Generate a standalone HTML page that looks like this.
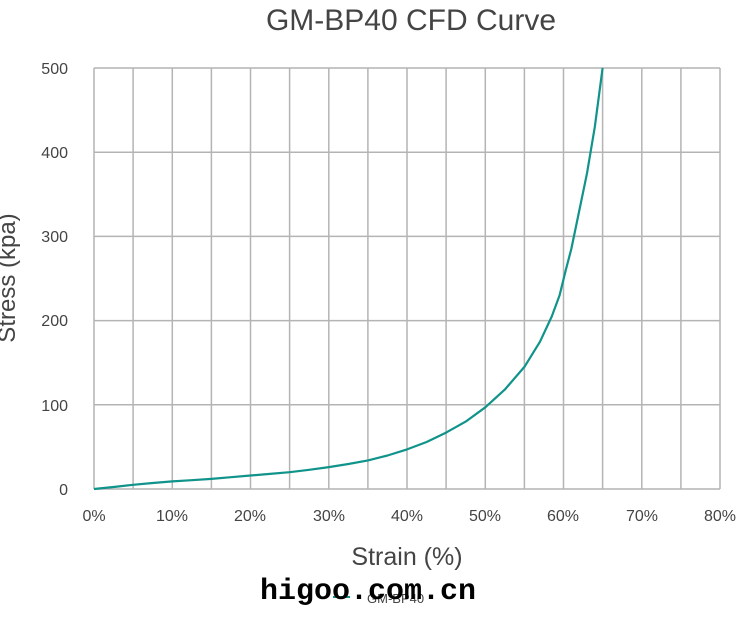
<!DOCTYPE html>
<html><head><style>
body{margin:0;background:#fff;width:742px;height:613px;overflow:hidden;font-family:"Liberation Sans",Arial,sans-serif}
</style></head><body>
<svg width="742" height="613" xmlns="http://www.w3.org/2000/svg" font-family="Liberation Sans, Arial, sans-serif">
<text x="411" y="30" font-size="30" text-anchor="middle" fill="#444">GM-BP40 CFD Curve</text>
<g stroke="#b4b4b4" stroke-width="1.5" fill="none">
<path d="M94,68H720M94,152.2H720M94,236.4H720M94,320.6H720M94,404.8H720M94,489H720"/>
<path d="M94,68V489M133.1,68V489M172.3,68V489M211.4,68V489M250.5,68V489M289.6,68V489M328.8,68V489M367.9,68V489M407,68V489M446.1,68V489M485.3,68V489M524.4,68V489M563.5,68V489M602.6,68V489M641.8,68V489M680.9,68V489M720,68V489"/>
</g>
<g font-size="16" fill="#444" text-anchor="end">
<text x="68" y="74">500</text><text x="68" y="158">400</text><text x="68" y="242">300</text><text x="68" y="326">200</text><text x="68" y="411">100</text><text x="68" y="495">0</text>
</g>
<g font-size="16" fill="#444" text-anchor="middle">
<text x="94" y="521">0%</text><text x="172" y="521">10%</text><text x="250" y="521">20%</text><text x="329" y="521">30%</text><text x="407" y="521">40%</text><text x="485" y="521">50%</text><text x="563" y="521">60%</text><text x="642" y="521">70%</text><text x="720" y="521">80%</text>
</g>
<text x="407" y="565" font-size="25" fill="#444" text-anchor="middle">Strain (%)</text>
<text transform="translate(15,278) rotate(-90)" font-size="24" fill="#444" text-anchor="middle">Stress (kpa)</text>
<polyline fill="none" stroke="#10938a" stroke-width="2.2" stroke-linejoin="round" points="94,489 113.6,487 133.1,484.8 152.7,483 172.3,481.4 191.8,480.2 211.4,478.9 231,477.2 250.5,475.5 270,473.9 289.6,472.2 309.2,469.8 328.8,467.1 348.4,464 367.9,460.4 387.5,455.5 407,449.4 426.6,442 446.1,432.6 465.7,421.6 485.3,407.3 504.8,389.6 524.4,366.9 540,341.7 551.8,316.4 559.6,295.3 565.8,270 571.3,249 579.2,211 587,173.3 594.8,127 602.6,68"/>
<line x1="333" y1="597" x2="350" y2="597" stroke="#10938a" stroke-width="2"/>
<text x="367" y="603" font-size="13" fill="#444">GM-BP40</text>
<text x="368" y="599" font-size="30" font-family="Liberation Mono, monospace" font-weight="bold" fill="#000" text-anchor="middle">higoo.com.cn</text>
</svg>
</body></html>
